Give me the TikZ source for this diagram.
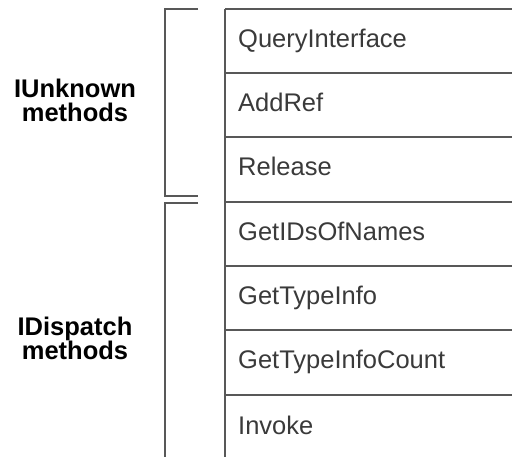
\documentclass[tikz,border=0pt]{standalone}
\usepackage{fontspec}
\setmainfont{Liberation Sans}
\definecolor{rule}{RGB}{88,88,88}
\definecolor{label}{RGB}{58,58,58}
\tikzset{
  rowline/.style={draw=rule, line width=1.7pt},
  bracket/.style={draw=rule, line width=1.7pt},
  method/.style={anchor=base west, inner sep=0pt, text=label,
                 font=\fontsize{25.5}{28}\selectfont},
  group/.style={align=center, inner sep=0pt, text=black,
                font=\fontsize{25.5}{24}\selectfont\bfseries}
}
\begin{document}
\begin{tikzpicture}[x=1pt, y=-1pt]
  \useasboundingbox (0,0) rectangle (512,457);
  \fill[white] (0,0) rectangle (512,457);

  % left edge of the method table
  \draw[rowline] (225,9) -- (225,470);
  % row separators
  \foreach \y in {9,73,137,202,266,330,395}
    \draw[rowline] (225,\y) -- (520,\y);

  % method names
  \node[method] (qi)  at (238,48)  {QueryInterface};
  \node[method] (ar)  at (238,112) {AddRef};
  \node[method] (rel) at (238,176) {Release};
  \node[method] (gid) at (238,241) {GetIDsOfNames};
  \node[method] (gti) at (238,305) {GetTypeInfo};
  \node[method] (gtc) at (238,369) {GetTypeInfoCount};
  \node[method] (inv) at (238,434) {Invoke};

  % brackets grouping the interfaces
  \draw[bracket] (198,9) -- (165,9) -- (165,196) -- (198,196);
  \draw[bracket] (198,203) -- (165,203) -- (165,470);

  % group captions
  \node[group] (iu) at (75,100) {IUnknown\\methods};
  \node[group] (id) at (75,338) {IDispatch\\methods};
\end{tikzpicture}
\end{document}
